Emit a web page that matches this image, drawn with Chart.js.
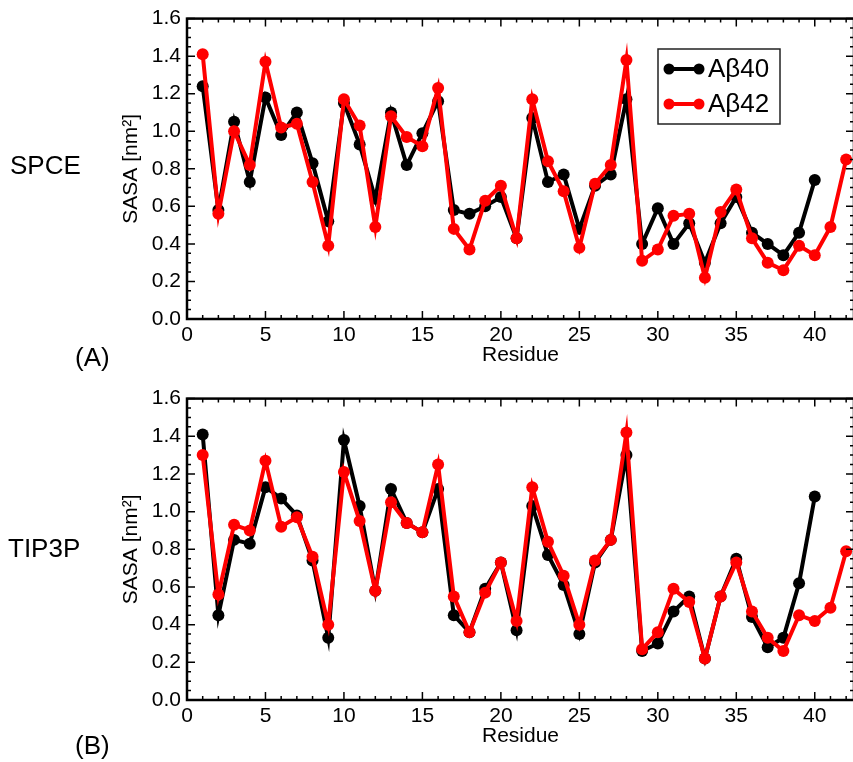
<!DOCTYPE html>
<html>
<head>
<meta charset="utf-8">
<script src="https://cdn.jsdelivr.net/npm/chart.js@4.4.1/dist/chart.umd.min.js"></script>
<style>
    html, body { margin: 0; padding: 0; background: #fff; overflow: hidden; }
    body { width: 853px; height: 762px; position: relative; }
    .panel { position: absolute; left: 0; width: 860px; }
    .tag { position: absolute; font-family: 'Liberation Sans', Arial, sans-serif; font-size: 26px; color: #000; line-height: 1; }
</style>
</head>
<body>
<div class="panel" style="top:0;height:380px"><canvas id="chart-spce" width="860" height="380"></canvas></div>
<div class="panel" style="top:380px;height:382px"><canvas id="chart-tip3p" width="860" height="382"></canvas></div>
<div class="tag" style="left:10px;top:152px">SPCE</div>
<div class="tag" style="left:75px;top:344px">(A)</div>
<div class="tag" style="left:8px;top:535px">TIP3P</div>
<div class="tag" style="left:75px;top:732px">(B)</div>
<script>
// =====================================================================
// DATA
// =====================================================================
const residues = [1, 2, 3, 4, 5, 6, 7, 8, 9, 10, 11, 12, 13, 14, 15, 16, 17, 18, 19, 20, 21,
    22, 23, 24, 25, 26, 27, 28, 29, 30, 31, 32, 33, 34, 35, 36, 37, 38, 39, 40, 41, 42];

// SASA per residue, SPCE water (nm^2)
const spceAb40 = [1.24, 0.58, 1.05, 0.73, 1.18, 0.98, 1.10, 0.83, 0.52, 1.15, 0.93, 0.64, 1.10, 0.82,
    0.99, 1.16, 0.58, 0.56, 0.60, 0.65, 0.43, 1.07, 0.73, 0.77, 0.48, 0.71, 0.77, 1.17, 0.40, 0.59,
    0.40, 0.51, 0.30, 0.51, 0.65, 0.46, 0.40, 0.34, 0.46, 0.74];
const spceAb42 = [1.41, 0.56, 1.00, 0.82, 1.37, 1.02, 1.04, 0.73, 0.39, 1.17, 1.03, 0.49, 1.08, 0.97,
    0.92, 1.23, 0.48, 0.37, 0.63, 0.71, 0.43, 1.17, 0.84, 0.68, 0.38, 0.72, 0.82, 1.38, 0.31, 0.37,
    0.55, 0.56, 0.22, 0.57, 0.69, 0.43, 0.30, 0.26, 0.39, 0.34, 0.49, 0.85];

// SASA per residue, TIP3P water (nm^2)
const tip3pAb40 = [1.41, 0.45, 0.85, 0.83, 1.13, 1.07, 0.98, 0.74, 0.33, 1.38, 1.03, 0.58, 1.12, 0.94,
    0.89, 1.12, 0.45, 0.36, 0.59, 0.73, 0.37, 1.03, 0.77, 0.61, 0.35, 0.73, 0.85, 1.30, 0.26, 0.30,
    0.47, 0.55, 0.22, 0.55, 0.75, 0.44, 0.28, 0.33, 0.62, 1.08];
const tip3pAb42 = [1.30, 0.56, 0.93, 0.90, 1.27, 0.92, 0.97, 0.76, 0.40, 1.21, 0.95, 0.58, 1.05, 0.94,
    0.89, 1.25, 0.55, 0.36, 0.57, 0.73, 0.42, 1.13, 0.84, 0.66, 0.40, 0.74, 0.85, 1.42, 0.27, 0.36,
    0.59, 0.52, 0.22, 0.55, 0.73, 0.47, 0.33, 0.26, 0.45, 0.42, 0.49, 0.79];

const seriesLabels = ['A\u03b240', 'A\u03b242'];
const seriesColors = ['#000000', '#ff0000'];

const xTitle = 'Residue';
const yTitle = 'SASA [nm\u00b2]';

// =====================================================================
// PLUGINS
// =====================================================================
const FONT = "'Liberation Sans', Arial, Helvetica, sans-serif";
Chart.defaults.font.family = FONT;
Chart.defaults.color = '#000';

// box around the plot + inward tick marks on every side
const frameTicks = {
    id: 'frameTicks',
    afterDatasetsDraw(chart) {
        const { ctx, chartArea: a, scales } = chart;
        ctx.save();
        ctx.strokeStyle = '#000';
        ctx.lineWidth = 1.5;
        ctx.beginPath();

        const xs = scales.x, ys = scales.y;
        const xMinor = 1, yMinor = 0.05;
        for (let v = xs.min; v <= xs.max + 1e-9; v += xMinor) {
            const px = xs.getPixelForValue(v);
            const len = Math.abs(v % 5) < 1e-6 ? 8 : 4;
            ctx.moveTo(px, a.bottom); ctx.lineTo(px, a.bottom - len);
            ctx.moveTo(px, a.top); ctx.lineTo(px, a.top + len);
        }
        for (let i = 0; ys.min + i * yMinor <= ys.max + 1e-9; i++) {
            const v = ys.min + i * yMinor;
            const py = ys.getPixelForValue(v);
            const len = i % 4 === 0 ? 8 : 4;
            ctx.moveTo(a.left, py); ctx.lineTo(a.left + len, py);
            ctx.moveTo(a.right, py); ctx.lineTo(a.right - len, py);
        }
        ctx.stroke();

        ctx.lineWidth = 2.5;
        ctx.strokeRect(a.left, a.top, a.right - a.left, a.bottom - a.top);
        ctx.restore();
    }
};

// legend box drawn inside the plot area
const boxLegend = {
    id: 'boxLegend',
    afterDraw(chart, args, opts) {
        if (!opts.show) return;
        const { ctx } = chart;
        const x0 = 658, y0 = 49, w = 122, h = 75;
        ctx.save();
        ctx.strokeStyle = '#222';
        ctx.lineWidth = 1.5;
        ctx.strokeRect(x0, y0, w, h);
        ctx.font = '26px ' + FONT;
        ctx.textBaseline = 'middle';
        seriesLabels.forEach((label, i) => {
            const y = y0 + 20 + i * 35;
            ctx.strokeStyle = seriesColors[i];
            ctx.fillStyle = seriesColors[i];
            ctx.lineWidth = 4;
            ctx.beginPath();
            ctx.moveTo(x0 + 11, y); ctx.lineTo(x0 + 41, y);
            ctx.stroke();
            [x0 + 11, x0 + 41].forEach(cx => {
                ctx.beginPath();
                ctx.arc(cx, y, 5.5, 0, Math.PI * 2);
                ctx.fill();
            });
            ctx.fillStyle = '#000';
            ctx.fillText(label, x0 + 50, y + 1);
        });
        ctx.restore();
    }
};

// =====================================================================
// CHARTS
// =====================================================================
function toPoints(values) {
    return values.map((v, i) => ({ x: residues[i], y: v }));
}

function makeDataset(i, values) {
    return {
        label: seriesLabels[i],
        data: toPoints(values),
        borderColor: seriesColors[i],
        backgroundColor: seriesColors[i],
        borderWidth: 4,
        pointRadius: 6,
        pointBorderWidth: 0,
        tension: 0,
        order: i === 1 ? 1 : 2
    };
}

function renderPanel(canvasId, ab40, ab42, showLegend, padTop, padBottom) {
    const ctx = document.getElementById(canvasId).getContext('2d');
    return new Chart(ctx, {
        type: 'line',
        data: {
            datasets: [makeDataset(0, ab40), makeDataset(1, ab42)]
        },
        options: {
            responsive: false,
            animation: false,
            events: [],
            layout: { padding: { left: 119, right: 6, top: padTop, bottom: padBottom } },
            plugins: {
                legend: { display: false },
                tooltip: { enabled: false },
                boxLegend: { show: showLegend }
            },
            scales: {
                x: {
                    type: 'linear',
                    min: 0,
                    max: 42.5,
                    grid: { display: false, drawTicks: false },
                    border: { display: false },
                    ticks: { stepSize: 5, includeBounds: false, padding: 4, font: { size: 21 }, maxRotation: 0 },
                    title: { display: true, text: xTitle, font: { size: 21 }, padding: { top: 0, bottom: 1 } },
                    afterFit: scale => { scale.height = 50; }
                },
                y: {
                    min: 0,
                    max: 1.6,
                    grid: { display: false, drawTicks: false },
                    border: { display: false },
                    ticks: { stepSize: 0.2, padding: 6, font: { size: 21 }, callback: v => v.toFixed(1) },
                    title: { display: true, text: yTitle, font: { size: 21 }, padding: { top: 0, bottom: 0 } },
                    afterFit: scale => { scale.width = 68; }
                }
            }
        },
        plugins: [frameTicks, boxLegend]
    });
}

renderPanel('chart-spce', spceAb40, spceAb42, true, 17, 11);
renderPanel('chart-tip3p', tip3pAb40, tip3pAb42, false, 17, 12);
</script>
</body>
</html>
